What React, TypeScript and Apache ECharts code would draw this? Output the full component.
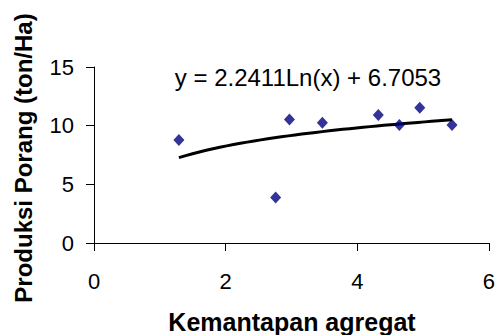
import React, { useEffect, useRef } from "react";
import * as echarts from "echarts";

// Kemantapan agregat vs Produksi Porang observations
const kemantapan = [1.29, 2.76, 2.97, 3.47, 4.32, 4.64, 4.95, 5.44];
const produksi = [8.78, 3.87, 10.53, 10.25, 10.9, 10.05, 11.52, 10.05];

// Logarithmic trendline coefficients: y = a·ln(x) + b
const trendA = 2.2411;
const trendB = 6.7053;
const trendSteps = 40;

const xTicks = { min: 0, max: 6, interval: 2 };
const yTicks = { min: 0, max: 15, interval: 5 };

const FONT = "'Liberation Sans', Arial, sans-serif";

export default function App() {
  const ref = useRef<HTMLDivElement>(null);

  useEffect(() => {
    if (!ref.current) return;
    const chart = echarts.init(ref.current, null, { renderer: "svg" });

    const points = kemantapan.map((x, i) => [x, produksi[i]]);
    const xMin = Math.min(...kemantapan);
    const xMax = Math.max(...kemantapan);
    const trend: number[][] = [];
    for (let i = 0; i <= trendSteps; i++) {
      const x = xMin + ((xMax - xMin) * i) / trendSteps;
      trend.push([x, trendA * Math.log(x) + trendB]);
    }

    const axisCommon = {
      axisLine: { show: true, lineStyle: { color: "#000", width: 1 } },
      axisTick: { show: true, inside: false, length: 8, lineStyle: { color: "#000" } },
      splitLine: { show: false },
    };

    chart.setOption({
      animation: false,
      backgroundColor: "#fff",
      grid: { left: 94, top: 67, width: 395, height: 176, containLabel: false },
      xAxis: {
        type: "value",
        ...xTicks,
        ...axisCommon,
        axisLabel: { fontSize: 22, color: "#000", fontFamily: FONT, margin: 27 },
      },
      yAxis: {
        type: "value",
        ...yTicks,
        ...axisCommon,
        axisLabel: { fontSize: 22, color: "#000", fontFamily: FONT, margin: 20 },
      },
      graphic: [
        {
          type: "text",
          x: 23,
          y: 158,
          rotation: Math.PI / 2,
          style: {
            text: "Produksi Porang (ton/Ha)",
            fontSize: 24,
            fontWeight: "bold",
            fontFamily: FONT,
            fill: "#000",
            align: "center",
            verticalAlign: "middle",
          },
        },
        {
          type: "text",
          x: 292,
          y: 322,
          style: {
            text: "Kemantapan agregat",
            fontSize: 25,
            fontWeight: "bold",
            fontFamily: FONT,
            fill: "#000",
            align: "center",
            verticalAlign: "middle",
          },
        },
        {
          type: "text",
          x: 308,
          y: 77,
          style: {
            text: `y = ${trendA}Ln(x) + ${trendB}`,
            fontSize: 24,
            fontFamily: FONT,
            fill: "#000",
            align: "center",
            verticalAlign: "middle",
          },
        },
      ],
      series: [
        {
          type: "line",
          data: trend,
          showSymbol: false,
          symbol: "none",
          lineStyle: { color: "#000", width: 3 },
          z: 2,
        },
        {
          type: "scatter",
          data: points,
          symbol: "diamond",
          symbolSize: [11, 12],
          itemStyle: { color: "#000080" },
          z: 3,
        },
      ],
    });

    return () => chart.dispose();
  }, []);

  return (
    <div
      ref={ref}
      style={{ position: "fixed", left: 0, top: 0, width: 498, height: 335 }}
    />
  );
}
